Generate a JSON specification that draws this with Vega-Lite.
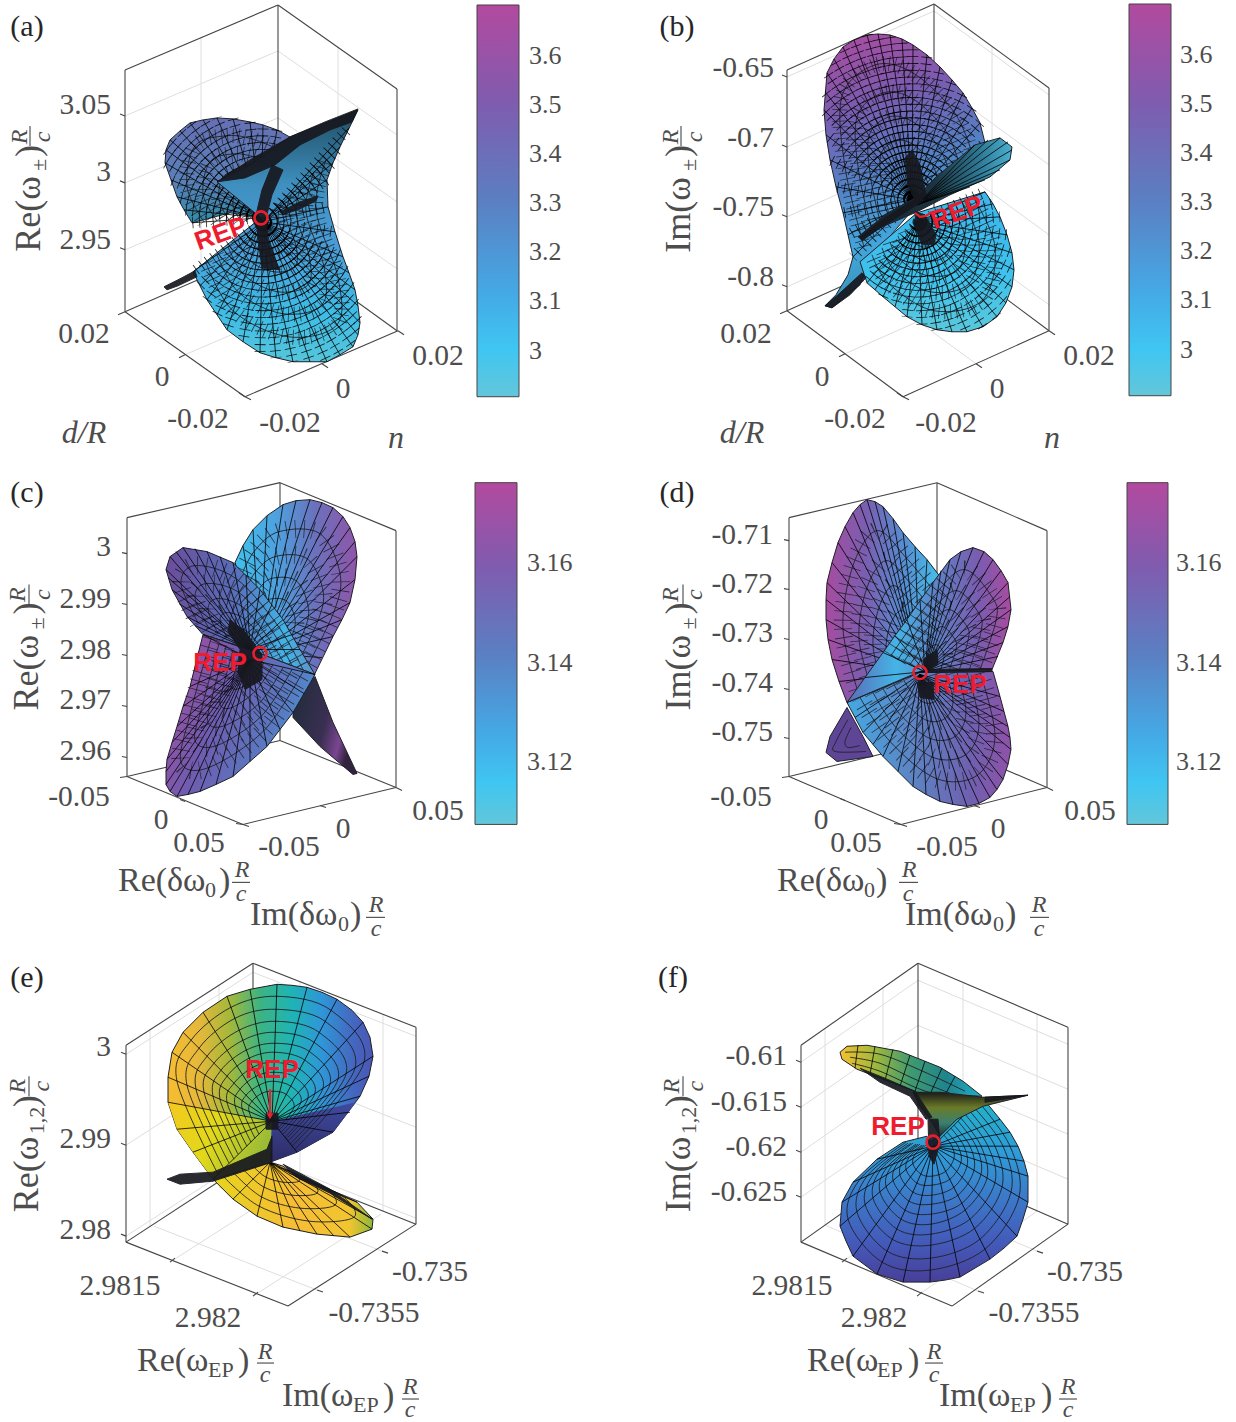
{"$schema":"https://vega.github.io/schema/vega-lite/v6.json","autosize":{"type":"fit","contains":"padding"},"width":1236,"height":1422,"padding":0,"background":"white","config":{"view":{"stroke":null},"text":{"font":"Liberation Serif"},"line":{"stroke":"#1f2128"},"style":{"ring":{"strokeWidth":0.9,"interpolate":"cardinal"},"spoke":{"stroke":"#1f2128","strokeWidth":0.8},"edge":{"strokeWidth":1,"interpolate":"linear-closed"},"rh":{"strokeWidth":15,"strokeDash":[0.8,5],"interpolate":"cardinal","opacity":0.85},"rh2":{"strokeWidth":18,"strokeDash":[0.8,8],"interpolate":"cardinal","opacity":0.85},"sh":{"stroke":"#1f2128","strokeWidth":11,"strokeDash":[0.8,6],"opacity":0.85}}},
"encoding":{"x":{"field":"x","type":"quantitative","scale":{"domain":[0,1236],"nice":false,"zero":false},"axis":null},"y":{"field":"y","type":"quantitative","scale":{"domain":[1422,0],"nice":false,"zero":false},"axis":null}},
"datasets":{
"grid":[{"x":125,"y":116,"x2":278,"y2":51},{"x":278,"y":51,"x2":397,"y2":135},{"x":125,"y":183,"x2":278,"y2":118},{"x":278,"y":118,"x2":397,"y2":202},{"x":125,"y":250,"x2":278,"y2":185},{"x":278,"y":185,"x2":397,"y2":269},{"x":201,"y":37,"x2":201,"y2":279},{"x":338,"y":47,"x2":338,"y2":288},{"x":185,"y":355,"x2":338,"y2":289},{"x":322,"y":364,"x2":201,"y2":280},
{"x":787,"y":77,"x2":934,"y2":11},{"x":934,"y":11,"x2":1049,"y2":95},{"x":787,"y":147,"x2":934,"y2":81},{"x":934,"y":81,"x2":1049,"y2":165},{"x":787,"y":217,"x2":934,"y2":151},{"x":934,"y":151,"x2":1049,"y2":235},{"x":787,"y":287,"x2":934,"y2":221},{"x":934,"y":221,"x2":1049,"y2":305},{"x":860,"y":37,"x2":860,"y2":279},{"x":992,"y":47,"x2":992,"y2":289},{"x":845,"y":354,"x2":992,"y2":289},{"x":976,"y":364,"x2":860,"y2":279},
{"x":126,"y":1055,"x2":253,"y2":973},{"x":253,"y":973,"x2":416,"y2":1037},{"x":126,"y":1146,"x2":253,"y2":1064},{"x":253,"y":1064,"x2":416,"y2":1128},{"x":126,"y":1237,"x2":253,"y2":1155},{"x":253,"y":1155,"x2":416,"y2":1219},{"x":150,"y":1031,"x2":150,"y2":1228},{"x":219,"y":986,"x2":219,"y2":1183},{"x":300,"y":982,"x2":300,"y2":1179},{"x":383,"y":1015,"x2":383,"y2":1212},{"x":170,"y":1263,"x2":298,"y2":1181},{"x":253,"y":1297,"x2":381,"y2":1215},{"x":317,"y":1291,"x2":154,"y2":1227},{"x":382,"y":1252,"x2":219,"y2":1188},
{"x":801,"y":1063,"x2":918,"y2":981},{"x":918,"y":981,"x2":1068,"y2":1045},{"x":801,"y":1108,"x2":918,"y2":1026},{"x":918,"y":1026,"x2":1068,"y2":1090},{"x":801,"y":1153,"x2":918,"y2":1071},{"x":918,"y":1071,"x2":1068,"y2":1135},{"x":801,"y":1198,"x2":918,"y2":1116},{"x":918,"y":1116,"x2":1068,"y2":1180},{"x":825,"y":1029,"x2":825,"y2":1226},{"x":883,"y":989,"x2":883,"y2":1186},{"x":963,"y":983,"x2":963,"y2":1180},{"x":1037,"y":1015,"x2":1037,"y2":1212},{"x":842,"y":1263,"x2":963,"y2":1180},{"x":917,"y":1297,"x2":1037,"y2":1212},{"x":978,"y":1292,"x2":825,"y2":1226},{"x":1037,"y":1252,"x2":883,"y2":1186}],
"box":[{"x":125,"y":70,"x2":278,"y2":5},{"x":278,"y":5,"x2":397,"y2":89},{"x":125,"y":70,"x2":125,"y2":312},{"x":397,"y":89,"x2":397,"y2":331},{"x":125,"y":312,"x2":245,"y2":397},{"x":245,"y":397,"x2":398,"y2":331},{"x":125,"y":312,"x2":278,"y2":245},{"x":278,"y":245,"x2":397,"y2":331},{"x":278,"y":5,"x2":278,"y2":245},
{"x":125,"y":116,"x2":120,"y2":114},{"x":125,"y":183,"x2":120,"y2":181},{"x":125,"y":250,"x2":120,"y2":248},{"x":125,"y":312,"x2":118,"y2":315},{"x":185,"y":355,"x2":179,"y2":358},{"x":245,"y":397,"x2":239,"y2":393},{"x":245,"y":397,"x2":251,"y2":400},{"x":322,"y":364,"x2":328,"y2":368},{"x":398,"y":331,"x2":404,"y2":335},
{"x":787,"y":70,"x2":934,"y2":4},{"x":934,"y":4,"x2":1049,"y2":88},{"x":787,"y":70,"x2":787,"y2":311},{"x":1049,"y":88,"x2":1049,"y2":331},{"x":787,"y":311,"x2":903,"y2":397},{"x":903,"y":397,"x2":1049,"y2":331},{"x":787,"y":311,"x2":934,"y2":245},{"x":934,"y":245,"x2":1049,"y2":331},{"x":934,"y":4,"x2":934,"y2":245},
{"x":787,"y":77,"x2":782,"y2":75},{"x":787,"y":147,"x2":782,"y2":145},{"x":787,"y":217,"x2":782,"y2":215},{"x":787,"y":287,"x2":782,"y2":285},{"x":787,"y":311,"x2":780,"y2":314},{"x":845,"y":354,"x2":839,"y2":357},{"x":903,"y":397,"x2":897,"y2":393},{"x":903,"y":397,"x2":909,"y2":400},{"x":976,"y":364,"x2":982,"y2":368},{"x":1049,"y":331,"x2":1055,"y2":335},
{"x":127,"y":518,"x2":280,"y2":483},{"x":280,"y":483,"x2":396,"y2":531},{"x":127,"y":518,"x2":127,"y2":777},{"x":396,"y":531,"x2":396,"y2":788},{"x":127,"y":777,"x2":243,"y2":825},{"x":243,"y":825,"x2":396,"y2":788},{"x":127,"y":777,"x2":280,"y2":741},{"x":280,"y":741,"x2":396,"y2":788},{"x":280,"y":483,"x2":280,"y2":741},
{"x":127,"y":554,"x2":122,"y2":553},{"x":127,"y":605,"x2":122,"y2":604},{"x":127,"y":656,"x2":122,"y2":655},{"x":127,"y":707,"x2":122,"y2":706},{"x":127,"y":758,"x2":122,"y2":757},{"x":127,"y":777,"x2":120,"y2":778},{"x":180,"y":800,"x2":185,"y2":802},{"x":243,"y":825,"x2":236,"y2":824},{"x":243,"y":825,"x2":249,"y2":827},{"x":320,"y":806,"x2":326,"y2":808},{"x":396,"y":788,"x2":402,"y2":791},
{"x":789,"y":518,"x2":937,"y2":483},{"x":937,"y":483,"x2":1047,"y2":531},{"x":789,"y":518,"x2":789,"y2":777},{"x":1047,"y":531,"x2":1047,"y2":788},{"x":789,"y":777,"x2":901,"y2":825},{"x":901,"y":825,"x2":1047,"y2":788},{"x":789,"y":777,"x2":937,"y2":741},{"x":937,"y":741,"x2":1047,"y2":788},{"x":937,"y":483,"x2":937,"y2":741},
{"x":789,"y":541,"x2":784,"y2":540},{"x":789,"y":590,"x2":784,"y2":589},{"x":789,"y":640,"x2":784,"y2":639},{"x":789,"y":690,"x2":784,"y2":689},{"x":789,"y":739,"x2":784,"y2":738},{"x":789,"y":777,"x2":782,"y2":778},{"x":845,"y":801,"x2":840,"y2":799},{"x":901,"y":825,"x2":894,"y2":824},{"x":901,"y":825,"x2":907,"y2":827},{"x":974,"y":806,"x2":980,"y2":808},{"x":1047,"y":788,"x2":1053,"y2":791},
{"x":126,"y":1046,"x2":253,"y2":964},{"x":253,"y":964,"x2":416,"y2":1028},{"x":126,"y":1046,"x2":126,"y2":1243},{"x":416,"y":1028,"x2":416,"y2":1225},{"x":126,"y":1243,"x2":288,"y2":1307},{"x":288,"y":1307,"x2":416,"y2":1225},{"x":126,"y":1243,"x2":253,"y2":1160},{"x":253,"y":1160,"x2":416,"y2":1225},{"x":253,"y":964,"x2":253,"y2":1160},
{"x":126,"y":1055,"x2":121,"y2":1053},{"x":126,"y":1146,"x2":121,"y2":1144},{"x":126,"y":1237,"x2":121,"y2":1235},{"x":170,"y":1263,"x2":175,"y2":1259},{"x":253,"y":1297,"x2":258,"y2":1293},{"x":317,"y":1291,"x2":323,"y2":1293},{"x":382,"y":1252,"x2":388,"y2":1254},
{"x":801,"y":1046,"x2":918,"y2":964},{"x":918,"y":964,"x2":1068,"y2":1028},{"x":801,"y":1046,"x2":801,"y2":1243},{"x":1068,"y":1028,"x2":1068,"y2":1225},{"x":801,"y":1243,"x2":952,"y2":1307},{"x":952,"y":1307,"x2":1068,"y2":1225},{"x":801,"y":1243,"x2":918,"y2":1160},{"x":918,"y":1160,"x2":1068,"y2":1225},{"x":918,"y":964,"x2":918,"y2":1160},
{"x":801,"y":1063,"x2":796,"y2":1061},{"x":801,"y":1108,"x2":796,"y2":1106},{"x":801,"y":1153,"x2":796,"y2":1151},{"x":801,"y":1198,"x2":796,"y2":1196},{"x":842,"y":1263,"x2":847,"y2":1259},{"x":917,"y":1297,"x2":922,"y2":1293},{"x":978,"y":1292,"x2":984,"y2":1294},{"x":1037,"y":1252,"x2":1043,"y2":1254},
{"x":514,"y":56,"x2":518,"y2":56},{"x":514,"y":105,"x2":518,"y2":105},{"x":514,"y":154,"x2":518,"y2":154},{"x":514,"y":203,"x2":518,"y2":203},{"x":514,"y":252,"x2":518,"y2":252},{"x":514,"y":301,"x2":518,"y2":301},{"x":514,"y":351,"x2":518,"y2":351},{"x":1165,"y":55,"x2":1170,"y2":55},{"x":1165,"y":104,"x2":1170,"y2":104},{"x":1165,"y":153,"x2":1170,"y2":153},{"x":1165,"y":202,"x2":1170,"y2":202},{"x":1165,"y":251,"x2":1170,"y2":251},{"x":1165,"y":300,"x2":1170,"y2":300},{"x":1165,"y":350,"x2":1170,"y2":350},{"x":512,"y":563,"x2":517,"y2":563},{"x":512,"y":663,"x2":517,"y2":663},{"x":512,"y":763,"x2":517,"y2":763},{"x":1163,"y":563,"x2":1168,"y2":563},{"x":1163,"y":663,"x2":1168,"y2":663},{"x":1163,"y":763,"x2":1168,"y2":763},
{"x":30,"y":126,"x2":30,"y2":146},{"x":681,"y":126,"x2":681,"y2":146},{"x":29,"y":585,"x2":29,"y2":605},{"x":683,"y":585,"x2":683,"y2":605},{"x":29,"y":1077,"x2":29,"y2":1097},{"x":683,"y":1077,"x2":683,"y2":1097},{"x":232,"y":883,"x2":250,"y2":883},{"x":366,"y":918,"x2":385,"y2":918},{"x":899,"y":883,"x2":918,"y2":883},{"x":1030,"y":918,"x2":1049,"y2":918},{"x":257,"y":1364,"x2":274,"y2":1364},{"x":402,"y":1400,"x2":419,"y2":1400},{"x":925,"y":1364,"x2":943,"y2":1364},{"x":1059,"y":1400,"x2":1077,"y2":1400}],
"cb1":[{"x":477,"x2":519,"y":5,"y2":397}],"cb2":[{"x":1129,"x2":1171,"y":4,"y2":396}],"cb3":[{"x":475,"x2":517,"y":483,"y2":825}],"cb4":[{"x":1127,"x2":1168,"y":483,"y2":825}],
"a1":[{"x":192,"y":223},{"x":184,"y":210},{"x":177,"y":197},{"x":171,"y":180},{"x":165,"y":163},{"x":166,"y":150},{"x":170,"y":140},{"x":180,"y":131},{"x":190,"y":123},{"x":203,"y":120},{"x":217,"y":118},{"x":233,"y":119},{"x":250,"y":122},{"x":263,"y":125},{"x":277,"y":130},{"x":295,"y":140},{"x":265,"y":218},{"x":230,"y":213}],
"a1r":[{"g":1,"x":204,"y":222},{"g":1,"x":187,"y":187},{"g":1,"x":195,"y":146},{"g":1,"x":225,"y":136},{"g":1,"x":252,"y":139},{"g":1,"x":289,"y":154},{"g":2,"x":217,"y":221},{"g":2,"x":203,"y":194},{"g":2,"x":210,"y":162},{"g":2,"x":233,"y":154},{"g":2,"x":254,"y":157},{"g":2,"x":283,"y":168},{"g":3,"x":229,"y":220},{"g":3,"x":219,"y":200},{"g":3,"x":223,"y":177},{"g":3,"x":240,"y":171},{"g":3,"x":256,"y":173},{"g":3,"x":277,"y":181},{"g":4,"x":240,"y":220},{"g":4,"x":233,"y":206},{"g":4,"x":236,"y":191},{"g":4,"x":247,"y":187},{"g":4,"x":258,"y":188},{"g":4,"x":272,"y":194},{"g":5,"x":249,"y":219},{"g":5,"x":246,"y":212},{"g":5,"x":247,"y":203},{"g":5,"x":254,"y":201},{"g":5,"x":259,"y":202},{"g":5,"x":267,"y":205}],
"a1s":[{"x":261,"y":218,"x2":192,"y2":223},{"x":261,"y":218,"x2":184,"y2":210},{"x":261,"y":218,"x2":177,"y2":197},{"x":261,"y":218,"x2":171,"y2":180},{"x":261,"y":218,"x2":165,"y2":163},{"x":261,"y":218,"x2":166,"y2":150},{"x":261,"y":218,"x2":170,"y2":140},{"x":261,"y":218,"x2":180,"y2":131},{"x":261,"y":218,"x2":190,"y2":123},{"x":261,"y":218,"x2":203,"y2":120},{"x":261,"y":218,"x2":217,"y2":118},{"x":261,"y":218,"x2":233,"y2":119},{"x":261,"y":218,"x2":250,"y2":122},{"x":261,"y":218,"x2":263,"y2":125},{"x":261,"y":218,"x2":277,"y2":130}],
"a2":[{"x":261,"y":218},{"x":193,"y":272},{"x":200,"y":286},{"x":207,"y":300},{"x":217,"y":315},{"x":227,"y":330},{"x":243,"y":342},{"x":260,"y":353},{"x":276,"y":358},{"x":293,"y":362},{"x":310,"y":362},{"x":327,"y":362},{"x":340,"y":355},{"x":353,"y":347},{"x":358,"y":335},{"x":360,"y":323},{"x":358,"y":306},{"x":355,"y":290},{"x":349,"y":273},{"x":343,"y":257},{"x":335,"y":232},{"x":328,"y":207},{"x":327,"y":180},{"x":333,"y":163},{"x":340,"y":147},{"x":358,"y":110},{"x":290,"y":137},{"x":250,"y":165},{"x":217,"y":182}],
"a2r":[{"g":1,"x":206,"y":263},{"g":1,"x":233,"y":311},{"g":1,"x":288,"y":337},{"g":1,"x":337,"y":325},{"g":1,"x":338,"y":278},{"g":1,"x":316,"y":210},{"g":1,"x":326,"y":160},{"g":2,"x":217,"y":255},{"g":2,"x":239,"y":293},{"g":2,"x":283,"y":314},{"g":2,"x":322,"y":305},{"g":2,"x":324,"y":267},{"g":2,"x":306,"y":212},{"g":2,"x":314,"y":172},{"g":3,"x":228,"y":247},{"g":3,"x":245,"y":276},{"g":3,"x":278,"y":292},{"g":3,"x":308,"y":285},{"g":3,"x":309,"y":256},{"g":3,"x":296,"y":214},{"g":3,"x":302,"y":184},{"g":4,"x":238,"y":240},{"g":4,"x":250,"y":261},{"g":4,"x":274,"y":272},{"g":4,"x":295,"y":267},{"g":4,"x":296,"y":246},{"g":4,"x":286,"y":217},{"g":4,"x":291,"y":195},{"g":5,"x":247,"y":234},{"g":5,"x":255,"y":247},{"g":5,"x":270,"y":254},{"g":5,"x":284,"y":251},{"g":5,"x":284,"y":238},{"g":5,"x":278,"y":219},{"g":5,"x":281,"y":205}],
"a2s":[{"x":263,"y":222,"x2":193,"y2":272},{"x":263,"y":222,"x2":200,"y2":286},{"x":263,"y":222,"x2":207,"y2":300},{"x":263,"y":222,"x2":217,"y2":315},{"x":263,"y":222,"x2":227,"y2":330},{"x":263,"y":222,"x2":243,"y2":342},{"x":263,"y":222,"x2":260,"y2":353},{"x":263,"y":222,"x2":276,"y2":358},{"x":263,"y":222,"x2":293,"y2":362},{"x":263,"y":222,"x2":310,"y2":362},{"x":263,"y":222,"x2":327,"y2":362},{"x":263,"y":222,"x2":340,"y2":355},{"x":263,"y":222,"x2":353,"y2":347},{"x":263,"y":222,"x2":358,"y2":335},{"x":263,"y":222,"x2":360,"y2":323},{"x":263,"y":222,"x2":358,"y2":306},{"x":263,"y":222,"x2":355,"y2":290},{"x":263,"y":222,"x2":349,"y2":273},{"x":263,"y":222,"x2":343,"y2":257},{"x":263,"y":222,"x2":335,"y2":232},{"x":263,"y":222,"x2":328,"y2":207},{"x":263,"y":222,"x2":327,"y2":180},{"x":263,"y":222,"x2":333,"y2":163},{"x":263,"y":222,"x2":340,"y2":147},{"x":263,"y":222,"x2":349,"y2":128}],
"b1":[{"x":917,"y":205},{"x":985,"y":143},{"x":980,"y":123},{"x":972,"y":108},{"x":963,"y":93},{"x":952,"y":80},{"x":940,"y":67},{"x":927,"y":55},{"x":913,"y":45},{"x":902,"y":39},{"x":890,"y":35},{"x":878,"y":34},{"x":867,"y":35},{"x":854,"y":40},{"x":843,"y":47},{"x":834,"y":59},{"x":827,"y":73},{"x":824,"y":110},{"x":826,"y":135},{"x":830,"y":160},{"x":836,"y":187},{"x":843,"y":213},{"x":853,"y":257},{"x":848,"y":275},{"x":836,"y":295},{"x":825,"y":306},{"x":832,"y":308},{"x":860,"y":285},{"x":868,"y":262}],
"b1r":[{"g":1,"x":864,"y":247},{"g":1,"x":845,"y":167},{"g":1,"x":842,"y":96},{"g":1,"x":875,"y":65},{"g":1,"x":913,"y":73},{"g":1,"x":954,"y":112},{"g":1,"x":972,"y":153},{"g":2,"x":874,"y":237},{"g":2,"x":859,"y":174},{"g":2,"x":857,"y":117},{"g":2,"x":883,"y":93},{"g":2,"x":913,"y":99},{"g":2,"x":945,"y":130},{"g":2,"x":959,"y":163},{"g":3,"x":882,"y":229},{"g":3,"x":871,"y":180},{"g":3,"x":869,"y":136},{"g":3,"x":889,"y":117},{"g":3,"x":913,"y":122},{"g":3,"x":938,"y":146},{"g":3,"x":949,"y":171},{"g":4,"x":891,"y":221},{"g":4,"x":882,"y":186},{"g":4,"x":881,"y":154},{"g":4,"x":896,"y":141},{"g":4,"x":912,"y":144},{"g":4,"x":930,"y":161},{"g":4,"x":938,"y":179},{"g":5,"x":898,"y":213},{"g":5,"x":893,"y":191},{"g":5,"x":892,"y":171},{"g":5,"x":902,"y":162},{"g":5,"x":912,"y":164},{"g":5,"x":924,"y":175},{"g":5,"x":929,"y":187}],
"b1s":[{"x":912,"y":200,"x2":985,"y2":143},{"x":912,"y":200,"x2":980,"y2":123},{"x":912,"y":200,"x2":972,"y2":108},{"x":912,"y":200,"x2":963,"y2":93},{"x":912,"y":200,"x2":952,"y2":80},{"x":912,"y":200,"x2":940,"y2":67},{"x":912,"y":200,"x2":927,"y2":55},{"x":912,"y":200,"x2":913,"y2":45},{"x":912,"y":200,"x2":902,"y2":39},{"x":912,"y":200,"x2":890,"y2":35},{"x":912,"y":200,"x2":878,"y2":34},{"x":912,"y":200,"x2":867,"y2":35},{"x":912,"y":200,"x2":854,"y2":40},{"x":912,"y":200,"x2":843,"y2":47},{"x":912,"y":200,"x2":834,"y2":59},{"x":912,"y":200,"x2":827,"y2":73},{"x":912,"y":200,"x2":825,"y2":92},{"x":912,"y":200,"x2":824,"y2":110},{"x":912,"y":200,"x2":826,"y2":135},{"x":912,"y":200,"x2":830,"y2":160},{"x":912,"y":200,"x2":836,"y2":187},{"x":912,"y":200,"x2":843,"y2":213},{"x":912,"y":200,"x2":848,"y2":235},{"x":912,"y":200,"x2":853,"y2":257}],
"b3":[{"x":917,"y":213},{"x":985,"y":192},{"x":993,"y":204},{"x":1000,"y":217},{"x":1007,"y":235},{"x":1012,"y":253},{"x":1014,"y":270},{"x":1012,"y":287},{"x":1006,"y":303},{"x":997,"y":317},{"x":983,"y":327},{"x":967,"y":332},{"x":952,"y":332},{"x":937,"y":330},{"x":922,"y":325},{"x":907,"y":317},{"x":883,"y":297},{"x":867,"y":283},{"x":860,"y":262}],
"b3r":[{"g":1,"x":973,"y":197},{"g":1,"x":995,"y":247},{"g":1,"x":983,"y":300},{"g":1,"x":934,"y":311},{"g":1,"x":889,"y":284},{"g":1,"x":872,"y":255},{"g":2,"x":962,"y":202},{"g":2,"x":979,"y":242},{"g":2,"x":969,"y":284},{"g":2,"x":930,"y":292},{"g":2,"x":895,"y":271},{"g":2,"x":882,"y":248},{"g":3,"x":952,"y":207},{"g":3,"x":965,"y":238},{"g":3,"x":958,"y":270},{"g":3,"x":928,"y":276},{"g":3,"x":900,"y":260},{"g":3,"x":890,"y":242},{"g":4,"x":942,"y":211},{"g":4,"x":952,"y":233},{"g":4,"x":946,"y":256},{"g":4,"x":925,"y":261},{"g":4,"x":905,"y":249},{"g":4,"x":898,"y":236},{"g":5,"x":933,"y":215},{"g":5,"x":940,"y":229},{"g":5,"x":936,"y":244},{"g":5,"x":922,"y":247},{"g":5,"x":910,"y":239},{"g":5,"x":905,"y":231}],
"b3s":[{"x":918,"y":222,"x2":985,"y2":192},{"x":918,"y":222,"x2":993,"y2":204},{"x":918,"y":222,"x2":1000,"y2":217},{"x":918,"y":222,"x2":1007,"y2":235},{"x":918,"y":222,"x2":1012,"y2":253},{"x":918,"y":222,"x2":1014,"y2":270},{"x":918,"y":222,"x2":1012,"y2":287},{"x":918,"y":222,"x2":1006,"y2":303},{"x":918,"y":222,"x2":997,"y2":317},{"x":918,"y":222,"x2":983,"y2":327},{"x":918,"y":222,"x2":967,"y2":332},{"x":918,"y":222,"x2":952,"y2":332},{"x":918,"y":222,"x2":937,"y2":330},{"x":918,"y":222,"x2":922,"y2":325},{"x":918,"y":222,"x2":907,"y2":317},{"x":918,"y":222,"x2":895,"y2":307},{"x":918,"y":222,"x2":883,"y2":297},{"x":918,"y":222,"x2":875,"y2":290},{"x":918,"y":222,"x2":867,"y2":283}],
"b2":[{"x":917,"y":197},{"x":935,"y":178},{"x":975,"y":145},{"x":1000,"y":138},{"x":1012,"y":147},{"x":1010,"y":160},{"x":990,"y":177},{"x":950,"y":195},{"x":917,"y":212},{"x":880,"y":228},{"x":862,"y":240},{"x":858,"y":237},{"x":885,"y":215}],
"b2s":[{"x":917,"y":205,"x2":975,"y2":145},{"x":917,"y":205,"x2":988,"y2":140},{"x":917,"y":205,"x2":1000,"y2":138},{"x":917,"y":205,"x2":1008,"y2":142},{"x":917,"y":205,"x2":1012,"y2":150},{"x":917,"y":205,"x2":1010,"y2":160},{"x":917,"y":205,"x2":1000,"y2":170},{"x":917,"y":205,"x2":985,"y2":180},{"x":917,"y":205,"x2":970,"y2":187}],
"c2":[{"x":293,"y":700},{"x":315,"y":677},{"x":333,"y":723},{"x":357,"y":774},{"x":353,"y":775},{"x":320,"y":747},{"x":293,"y":718}],
"c1":[{"x":260,"y":654},{"x":235,"y":563},{"x":243,"y":546},{"x":253,"y":530},{"x":267,"y":516},{"x":283,"y":505},{"x":296,"y":501},{"x":310,"y":500},{"x":322,"y":503},{"x":333,"y":508},{"x":343,"y":517},{"x":350,"y":528},{"x":355,"y":542},{"x":357,"y":557},{"x":355,"y":580},{"x":350,"y":603},{"x":342,"y":620},{"x":333,"y":637},{"x":312,"y":680},{"x":295,"y":672}],
"c1r":[{"g":1,"x":240,"y":579},{"g":1,"x":254,"y":552},{"g":1,"x":279,"y":532},{"g":1,"x":320,"y":534},{"g":1,"x":340,"y":574},{"g":1,"x":334,"y":612},{"g":1,"x":303,"y":675},{"g":2,"x":244,"y":595},{"g":2,"x":255,"y":573},{"g":2,"x":275,"y":557},{"g":2,"x":307,"y":559},{"g":2,"x":323,"y":591},{"g":2,"x":318,"y":621},{"g":2,"x":294,"y":671},{"g":3,"x":248,"y":609},{"g":3,"x":257,"y":592},{"g":3,"x":271,"y":579},{"g":3,"x":296,"y":581},{"g":3,"x":308,"y":606},{"g":3,"x":305,"y":629},{"g":3,"x":286,"y":667},{"g":4,"x":251,"y":621},{"g":4,"x":258,"y":609},{"g":4,"x":268,"y":600},{"g":4,"x":286,"y":601},{"g":4,"x":295,"y":619},{"g":4,"x":292,"y":636},{"g":4,"x":279,"y":663},{"g":5,"x":255,"y":634},{"g":5,"x":259,"y":627},{"g":5,"x":265,"y":621},{"g":5,"x":276,"y":622},{"g":5,"x":281,"y":633},{"g":5,"x":280,"y":643},{"g":5,"x":271,"y":660}],
"c1s":[{"x":260,"y":654,"x2":235,"y2":563},{"x":260,"y":654,"x2":243,"y2":546},{"x":260,"y":654,"x2":253,"y2":530},{"x":260,"y":654,"x2":267,"y2":516},{"x":260,"y":654,"x2":283,"y2":505},{"x":260,"y":654,"x2":296,"y2":501},{"x":260,"y":654,"x2":310,"y2":500},{"x":260,"y":654,"x2":322,"y2":503},{"x":260,"y":654,"x2":333,"y2":508},{"x":260,"y":654,"x2":343,"y2":517},{"x":260,"y":654,"x2":350,"y2":528},{"x":260,"y":654,"x2":355,"y2":542},{"x":260,"y":654,"x2":357,"y2":557},{"x":260,"y":654,"x2":355,"y2":580},{"x":260,"y":654,"x2":350,"y2":603},{"x":260,"y":654,"x2":342,"y2":620},{"x":260,"y":654,"x2":333,"y2":637},{"x":260,"y":654,"x2":322,"y2":658}],
"c3":[{"x":203,"y":635},{"x":187,"y":617},{"x":172,"y":590},{"x":166,"y":570},{"x":170,"y":557},{"x":183,"y":548},{"x":207,"y":552},{"x":233,"y":563},{"x":260,"y":590},{"x":283,"y":620},{"x":300,"y":650},{"x":315,"y":675},{"x":260,"y":654}],
"c3r":[{"g":1,"x":198,"y":623},{"g":1,"x":181,"y":584},{"g":1,"x":195,"y":566},{"g":1,"x":236,"y":579},{"g":1,"x":277,"y":625},{"g":1,"x":303,"y":670},{"g":2,"x":209,"y":629},{"g":2,"x":195,"y":598},{"g":2,"x":206,"y":584},{"g":2,"x":239,"y":593},{"g":2,"x":271,"y":630},{"g":2,"x":292,"y":666},{"g":3,"x":218,"y":634},{"g":3,"x":208,"y":610},{"g":3,"x":217,"y":599},{"g":3,"x":242,"y":607},{"g":3,"x":266,"y":635},{"g":3,"x":283,"y":662},{"g":4,"x":227,"y":638},{"g":4,"x":220,"y":621},{"g":4,"x":226,"y":613},{"g":4,"x":244,"y":619},{"g":4,"x":262,"y":639},{"g":4,"x":273,"y":659},{"g":5,"x":236,"y":643},{"g":5,"x":232,"y":632},{"g":5,"x":235,"y":628},{"g":5,"x":246,"y":631},{"g":5,"x":257,"y":643},{"g":5,"x":264,"y":655}],
"c3s":[{"x":250,"y":650,"x2":203,"y2":635},{"x":250,"y":650,"x2":195,"y2":626},{"x":250,"y":650,"x2":187,"y2":617},{"x":250,"y":650,"x2":179,"y2":604},{"x":250,"y":650,"x2":172,"y2":590},{"x":250,"y":650,"x2":168,"y2":578},{"x":250,"y":650,"x2":166,"y2":570},{"x":250,"y":650,"x2":170,"y2":557},{"x":250,"y":650,"x2":176,"y2":552},{"x":250,"y":650,"x2":183,"y2":548},{"x":250,"y":650,"x2":195,"y2":549},{"x":250,"y":650,"x2":207,"y2":552},{"x":250,"y":650,"x2":220,"y2":557},{"x":250,"y":650,"x2":233,"y2":563},{"x":250,"y":650,"x2":246,"y2":576},{"x":250,"y":650,"x2":260,"y2":590},{"x":250,"y":650,"x2":272,"y2":605},{"x":250,"y":650,"x2":283,"y2":620},{"x":250,"y":650,"x2":292,"y2":635},{"x":250,"y":650,"x2":300,"y2":650}],
"c4":[{"x":203,"y":635},{"x":260,"y":654},{"x":315,"y":675},{"x":304,"y":694},{"x":293,"y":713},{"x":280,"y":730},{"x":267,"y":747},{"x":250,"y":762},{"x":233,"y":777},{"x":216,"y":785},{"x":200,"y":792},{"x":188,"y":795},{"x":177,"y":797},{"x":170,"y":792},{"x":166,"y":785},{"x":166,"y":772},{"x":167,"y":760},{"x":172,"y":743},{"x":177,"y":727},{"x":183,"y":707},{"x":190,"y":687}],
"c4r":[{"g":1,"x":211,"y":639},{"g":1,"x":190,"y":715},{"g":1,"x":181,"y":763},{"g":1,"x":209,"y":768},{"g":1,"x":264,"y":731},{"g":1,"x":303,"y":672},{"g":2,"x":219,"y":644},{"g":2,"x":203,"y":704},{"g":2,"x":195,"y":741},{"g":2,"x":217,"y":746},{"g":2,"x":261,"y":717},{"g":2,"x":292,"y":670},{"g":3,"x":226,"y":647},{"g":3,"x":213,"y":694},{"g":3,"x":208,"y":723},{"g":3,"x":225,"y":726},{"g":3,"x":259,"y":704},{"g":3,"x":283,"y":668},{"g":4,"x":233,"y":651},{"g":4,"x":224,"y":684},{"g":4,"x":220,"y":705},{"g":4,"x":232,"y":708},{"g":4,"x":256,"y":691},{"g":4,"x":273,"y":665},{"g":5,"x":240,"y":654},{"g":5,"x":234,"y":675},{"g":5,"x":232,"y":688},{"g":5,"x":239,"y":689},{"g":5,"x":254,"y":679},{"g":5,"x":264,"y":663}],
"c4s":[{"x":250,"y":660,"x2":203,"y2":635},{"x":250,"y":660,"x2":190,"y2":687},{"x":250,"y":660,"x2":183,"y2":707},{"x":250,"y":660,"x2":177,"y2":727},{"x":250,"y":660,"x2":172,"y2":743},{"x":250,"y":660,"x2":167,"y2":760},{"x":250,"y":660,"x2":166,"y2":772},{"x":250,"y":660,"x2":166,"y2":785},{"x":250,"y":660,"x2":170,"y2":792},{"x":250,"y":660,"x2":177,"y2":797},{"x":250,"y":660,"x2":188,"y2":795},{"x":250,"y":660,"x2":200,"y2":792},{"x":250,"y":660,"x2":216,"y2":785},{"x":250,"y":660,"x2":233,"y2":777},{"x":250,"y":660,"x2":250,"y2":762},{"x":250,"y":660,"x2":267,"y2":747},{"x":250,"y":660,"x2":280,"y2":730},{"x":250,"y":660,"x2":293,"y2":713},{"x":250,"y":660,"x2":304,"y2":694},{"x":250,"y":660,"x2":315,"y2":675}],
"d3":[{"x":847,"y":708},{"x":830,"y":737},{"x":826,"y":753},{"x":837,"y":762},{"x":873,"y":757},{"x":863,"y":737}],
"d3r":[{"g":1,"x":848,"y":720},{"g":1,"x":836,"y":742},{"g":1,"x":835,"y":752},{"g":1,"x":866,"y":752},{"g":2,"x":851,"y":728},{"g":2,"x":845,"y":742},{"g":2,"x":848,"y":748},{"g":2,"x":860,"y":746}],
"d1":[{"x":920,"y":673},{"x":847,"y":703},{"x":839,"y":682},{"x":832,"y":660},{"x":828,"y":640},{"x":826,"y":620},{"x":826,"y":600},{"x":827,"y":583},{"x":832,"y":563},{"x":838,"y":543},{"x":845,"y":527},{"x":853,"y":513},{"x":860,"y":505},{"x":867,"y":500},{"x":875,"y":502},{"x":883,"y":507},{"x":893,"y":519},{"x":903,"y":533},{"x":915,"y":547},{"x":927,"y":560},{"x":940,"y":577}],
"d1r":[{"g":1,"x":860,"y":698},{"g":1,"x":843,"y":630},{"g":1,"x":853,"y":566},{"g":1,"x":877,"y":531},{"g":1,"x":906,"y":558},{"g":1,"x":936,"y":594},{"g":2,"x":873,"y":693},{"g":2,"x":859,"y":639},{"g":2,"x":867,"y":588},{"g":2,"x":886,"y":561},{"g":2,"x":909,"y":582},{"g":2,"x":933,"y":611},{"g":3,"x":883,"y":688},{"g":3,"x":873,"y":646},{"g":3,"x":879,"y":608},{"g":3,"x":893,"y":586},{"g":3,"x":911,"y":603},{"g":3,"x":930,"y":625},{"g":4,"x":894,"y":684},{"g":4,"x":886,"y":654},{"g":4,"x":890,"y":626},{"g":4,"x":901,"y":611},{"g":4,"x":914,"y":623},{"g":4,"x":927,"y":638},{"g":5,"x":904,"y":680},{"g":5,"x":899,"y":661},{"g":5,"x":902,"y":644},{"g":5,"x":908,"y":635},{"g":5,"x":916,"y":642},{"g":5,"x":924,"y":652}],
"d1s":[{"x":920,"y":673,"x2":839,"y2":682},{"x":920,"y":673,"x2":832,"y2":660},{"x":920,"y":673,"x2":828,"y2":640},{"x":920,"y":673,"x2":826,"y2":620},{"x":920,"y":673,"x2":826,"y2":600},{"x":920,"y":673,"x2":827,"y2":583},{"x":920,"y":673,"x2":832,"y2":563},{"x":920,"y":673,"x2":838,"y2":543},{"x":920,"y":673,"x2":845,"y2":527},{"x":920,"y":673,"x2":853,"y2":513},{"x":920,"y":673,"x2":860,"y2":505},{"x":920,"y":673,"x2":867,"y2":500},{"x":920,"y":673,"x2":875,"y2":502},{"x":920,"y":673,"x2":883,"y2":507},{"x":920,"y":673,"x2":893,"y2":519},{"x":920,"y":673,"x2":903,"y2":533},{"x":920,"y":673,"x2":915,"y2":547},{"x":920,"y":673,"x2":927,"y2":560}],
"d4":[{"x":920,"y":673},{"x":847,"y":703},{"x":855,"y":718},{"x":863,"y":733},{"x":873,"y":745},{"x":883,"y":757},{"x":898,"y":772},{"x":913,"y":787},{"x":926,"y":795},{"x":940,"y":802},{"x":953,"y":805},{"x":967,"y":807},{"x":979,"y":804},{"x":990,"y":798},{"x":997,"y":790},{"x":1003,"y":780},{"x":1008,"y":765},{"x":1011,"y":750},{"x":1010,"y":738},{"x":1008,"y":727},{"x":1004,"y":712},{"x":1000,"y":697},{"x":993,"y":672}],
"d4r":[{"g":1,"x":860,"y":698},{"g":1,"x":890,"y":742},{"g":1,"x":936,"y":779},{"g":1,"x":977,"y":776},{"g":1,"x":995,"y":737},{"g":1,"x":980,"y":673},{"g":2,"x":873,"y":693},{"g":2,"x":896,"y":728},{"g":2,"x":933,"y":758},{"g":2,"x":966,"y":755},{"g":2,"x":979,"y":724},{"g":2,"x":967,"y":673},{"g":3,"x":883,"y":689},{"g":3,"x":901,"y":716},{"g":3,"x":930,"y":739},{"g":3,"x":955,"y":737},{"g":3,"x":966,"y":713},{"g":3,"x":957,"y":673},{"g":4,"x":894,"y":685},{"g":4,"x":907,"y":705},{"g":4,"x":927,"y":721},{"g":4,"x":945,"y":719},{"g":4,"x":953,"y":702},{"g":4,"x":946,"y":674},{"g":5,"x":904,"y":681},{"g":5,"x":912,"y":693},{"g":5,"x":924,"y":703},{"g":5,"x":935,"y":702},{"g":5,"x":940,"y":692},{"g":5,"x":936,"y":674}],
"d4s":[{"x":920,"y":675,"x2":855,"y2":718},{"x":920,"y":675,"x2":863,"y2":733},{"x":920,"y":675,"x2":873,"y2":745},{"x":920,"y":675,"x2":883,"y2":757},{"x":920,"y":675,"x2":898,"y2":772},{"x":920,"y":675,"x2":913,"y2":787},{"x":920,"y":675,"x2":926,"y2":795},{"x":920,"y":675,"x2":940,"y2":802},{"x":920,"y":675,"x2":953,"y2":805},{"x":920,"y":675,"x2":967,"y2":807},{"x":920,"y":675,"x2":979,"y2":804},{"x":920,"y":675,"x2":990,"y2":798},{"x":920,"y":675,"x2":997,"y2":790},{"x":920,"y":675,"x2":1003,"y2":780},{"x":920,"y":675,"x2":1008,"y2":765},{"x":920,"y":675,"x2":1011,"y2":750},{"x":920,"y":675,"x2":1010,"y2":738},{"x":920,"y":675,"x2":1008,"y2":727},{"x":920,"y":675,"x2":1004,"y2":712},{"x":920,"y":675,"x2":1000,"y2":697}],
"d2":[{"x":920,"y":672},{"x":847,"y":703},{"x":865,"y":678},{"x":883,"y":653},{"x":895,"y":636},{"x":907,"y":620},{"x":920,"y":601},{"x":933,"y":583},{"x":950,"y":560},{"x":961,"y":552},{"x":973,"y":548},{"x":984,"y":552},{"x":993,"y":560},{"x":1001,"y":571},{"x":1008,"y":583},{"x":1011,"y":610},{"x":1008,"y":627},{"x":1003,"y":643},{"x":992,"y":670}],
"d2r":[{"g":1,"x":891,"y":656},{"g":1,"x":932,"y":599},{"g":1,"x":964,"y":570},{"g":1,"x":993,"y":599},{"g":1,"x":996,"y":621},{"g":1,"x":980,"y":670},{"g":2,"x":898,"y":660},{"g":2,"x":930,"y":614},{"g":2,"x":956,"y":591},{"g":2,"x":979,"y":614},{"g":2,"x":981,"y":632},{"g":2,"x":969,"y":671},{"g":3,"x":904,"y":662},{"g":3,"x":929,"y":627},{"g":3,"x":949,"y":610},{"g":3,"x":967,"y":627},{"g":3,"x":968,"y":641},{"g":3,"x":959,"y":671},{"g":4,"x":910,"y":665},{"g":4,"x":928,"y":640},{"g":4,"x":942,"y":627},{"g":4,"x":955,"y":640},{"g":4,"x":956,"y":650},{"g":4,"x":949,"y":671},{"g":5,"x":916,"y":668},{"g":5,"x":927,"y":652},{"g":5,"x":936,"y":645},{"g":5,"x":943,"y":652},{"g":5,"x":944,"y":658},{"g":5,"x":940,"y":672}],
"d2s":[{"x":925,"y":672,"x2":865,"y2":678},{"x":925,"y":672,"x2":883,"y2":653},{"x":925,"y":672,"x2":895,"y2":636},{"x":925,"y":672,"x2":907,"y2":620},{"x":925,"y":672,"x2":920,"y2":601},{"x":925,"y":672,"x2":933,"y2":583},{"x":925,"y":672,"x2":941,"y2":571},{"x":925,"y":672,"x2":950,"y2":560},{"x":925,"y":672,"x2":961,"y2":552},{"x":925,"y":672,"x2":973,"y2":548},{"x":925,"y":672,"x2":984,"y2":552},{"x":925,"y":672,"x2":993,"y2":560},{"x":925,"y":672,"x2":1001,"y2":571},{"x":925,"y":672,"x2":1008,"y2":583},{"x":925,"y":672,"x2":1010,"y2":597},{"x":925,"y":672,"x2":1011,"y2":610},{"x":925,"y":672,"x2":1008,"y2":627},{"x":925,"y":672,"x2":1003,"y2":643},{"x":925,"y":672,"x2":998,"y2":657}],
"e3":[{"x":213,"y":1180},{"x":233,"y":1200},{"x":257,"y":1217},{"x":283,"y":1228},{"x":317,"y":1235},{"x":350,"y":1238},{"x":372,"y":1230},{"x":373,"y":1220},{"x":357,"y":1203},{"x":330,"y":1192},{"x":300,"y":1180},{"x":283,"y":1167},{"x":270,"y":1163}],
"e3r":[{"g":1,"x":223,"y":1177},{"g":1,"x":259,"y":1207},{"g":1,"x":309,"y":1222},{"g":1,"x":354,"y":1218},{"g":1,"x":341,"y":1196},{"g":1,"x":295,"y":1177},{"g":2,"x":234,"y":1174},{"g":2,"x":262,"y":1198},{"g":2,"x":300,"y":1209},{"g":2,"x":335,"y":1206},{"g":2,"x":326,"y":1189},{"g":2,"x":289,"y":1174},{"g":3,"x":244,"y":1171},{"g":3,"x":264,"y":1188},{"g":3,"x":292,"y":1196},{"g":3,"x":317,"y":1194},{"g":3,"x":310,"y":1181},{"g":3,"x":284,"y":1171},{"g":4,"x":254,"y":1168},{"g":4,"x":266,"y":1178},{"g":4,"x":283,"y":1183},{"g":4,"x":299,"y":1182},{"g":4,"x":294,"y":1174},{"g":4,"x":278,"y":1168}],
"e3s":[{"x":270,"y":1163,"x2":233,"y2":1200},{"x":270,"y":1163,"x2":257,"y2":1217},{"x":270,"y":1163,"x2":283,"y2":1228},{"x":270,"y":1163,"x2":300,"y2":1232},{"x":270,"y":1163,"x2":317,"y2":1235},{"x":270,"y":1163,"x2":334,"y2":1237},{"x":270,"y":1163,"x2":350,"y2":1238},{"x":270,"y":1163,"x2":372,"y2":1230},{"x":270,"y":1163,"x2":373,"y2":1220},{"x":270,"y":1163,"x2":357,"y2":1203}],
"e1":[{"x":297,"y":1153},{"x":333,"y":1133},{"x":360,"y":1097},{"x":369,"y":1077},{"x":373,"y":1057},{"x":370,"y":1038},{"x":363,"y":1023},{"x":352,"y":1011},{"x":337,"y":1000},{"x":322,"y":993},{"x":307,"y":988},{"x":292,"y":986},{"x":277,"y":985},{"x":250,"y":990},{"x":227,"y":997},{"x":203,"y":1013},{"x":183,"y":1033},{"x":172,"y":1053},{"x":168,"y":1078},{"x":168,"y":1103},{"x":177,"y":1130},{"x":193,"y":1153},{"x":213,"y":1180},{"x":270,"y":1163}],
"e1y":[{"x":272,"y":1122},{"x":168,"y":1103},{"x":177,"y":1130},{"x":193,"y":1153},{"x":213,"y":1180},{"x":270,"y":1163}],
"e1d":[{"x":272,"y":1122},{"x":356,"y":1103},{"x":333,"y":1133},{"x":297,"y":1153},{"x":270,"y":1163}],
"e1r":[{"g":1,"x":224,"y":1170},{"g":1,"x":187,"y":1086},{"g":1,"x":199,"y":1049},{"g":1,"x":235,"y":1019},{"g":1,"x":276,"y":1010},{"g":1,"x":325,"y":1022},{"g":1,"x":355,"y":1069},{"g":1,"x":292,"y":1147},{"g":2,"x":234,"y":1160},{"g":2,"x":204,"y":1093},{"g":2,"x":214,"y":1064},{"g":2,"x":243,"y":1041},{"g":2,"x":275,"y":1033},{"g":2,"x":314,"y":1043},{"g":2,"x":338,"y":1080},{"g":2,"x":288,"y":1142},{"g":3,"x":242,"y":1151},{"g":3,"x":220,"y":1100},{"g":3,"x":227,"y":1077},{"g":3,"x":249,"y":1059},{"g":3,"x":275,"y":1053},{"g":3,"x":305,"y":1061},{"g":3,"x":323,"y":1089},{"g":3,"x":285,"y":1138},{"g":4,"x":251,"y":1143},{"g":4,"x":235,"y":1106},{"g":4,"x":240,"y":1090},{"g":4,"x":256,"y":1077},{"g":4,"x":274,"y":1073},{"g":4,"x":295,"y":1078},{"g":4,"x":308,"y":1099},{"g":4,"x":281,"y":1133},{"g":5,"x":259,"y":1135},{"g":5,"x":249,"y":1112},{"g":5,"x":252,"y":1102},{"g":5,"x":262,"y":1094},{"g":5,"x":273,"y":1092},{"g":5,"x":286,"y":1095},{"g":5,"x":294,"y":1108},{"g":5,"x":278,"y":1129},
{"g":6,"x":218,"y":1175},{"g":6,"x":177,"y":1082},{"g":6,"x":191,"y":1041},{"g":6,"x":231,"y":1008},{"g":6,"x":277,"y":997},{"g":6,"x":331,"y":1011},{"g":6,"x":364,"y":1063},{"g":6,"x":295,"y":1150},{"g":7,"x":229,"y":1164},{"g":7,"x":196,"y":1090},{"g":7,"x":207,"y":1057},{"g":7,"x":239,"y":1031},{"g":7,"x":276,"y":1022},{"g":7,"x":319,"y":1033},{"g":7,"x":346,"y":1075},{"g":7,"x":290,"y":1145},{"g":8,"x":238,"y":1155},{"g":8,"x":213,"y":1097},{"g":8,"x":221,"y":1071},{"g":8,"x":246,"y":1051},{"g":8,"x":275,"y":1044},{"g":8,"x":309,"y":1052},{"g":8,"x":330,"y":1085},{"g":8,"x":286,"y":1140},{"g":9,"x":247,"y":1147},{"g":9,"x":227,"y":1103},{"g":9,"x":234,"y":1084},{"g":9,"x":253,"y":1068},{"g":9,"x":274,"y":1063},{"g":9,"x":300,"y":1070},{"g":9,"x":315,"y":1094},{"g":9,"x":283,"y":1135},{"g":10,"x":255,"y":1139},{"g":10,"x":242,"y":1109},{"g":10,"x":246,"y":1096},{"g":10,"x":259,"y":1086},{"g":10,"x":273,"y":1082},{"g":10,"x":291,"y":1087},{"g":10,"x":301,"y":1103},{"g":10,"x":279,"y":1131}],
"e1s":[{"x":272,"y":1122,"x2":297,"y2":1153},{"x":272,"y":1122,"x2":333,"y2":1133},{"x":272,"y":1122,"x2":350,"y2":1113},{"x":272,"y":1122,"x2":360,"y2":1097},{"x":272,"y":1122,"x2":369,"y2":1077},{"x":272,"y":1122,"x2":373,"y2":1057},{"x":272,"y":1122,"x2":363,"y2":1023},{"x":272,"y":1122,"x2":337,"y2":1000},{"x":272,"y":1122,"x2":307,"y2":988},{"x":272,"y":1122,"x2":277,"y2":985},{"x":272,"y":1122,"x2":250,"y2":990},{"x":272,"y":1122,"x2":227,"y2":997},{"x":272,"y":1122,"x2":203,"y2":1013},{"x":272,"y":1122,"x2":183,"y2":1033},{"x":272,"y":1122,"x2":172,"y2":1053},{"x":272,"y":1122,"x2":168,"y2":1078},{"x":272,"y":1122,"x2":168,"y2":1103},{"x":272,"y":1122,"x2":177,"y2":1130},{"x":272,"y":1122,"x2":193,"y2":1153},{"x":272,"y":1122,"x2":213,"y2":1180}],
"f2":[{"x":840,"y":1053},{"x":847,"y":1047},{"x":867,"y":1046},{"x":900,"y":1052},{"x":940,"y":1068},{"x":963,"y":1082},{"x":982,"y":1097},{"x":930,"y":1095},{"x":917,"y":1093},{"x":883,"y":1080},{"x":857,"y":1070},{"x":842,"y":1060}],
"f2r":[{"g":1,"x":845,"y":1053},{"g":1,"x":880,"y":1055},{"g":1,"x":925,"y":1073},{"g":1,"x":965,"y":1092},{"g":2,"x":850,"y":1058},{"g":2,"x":880,"y":1064},{"g":2,"x":915,"y":1080},{"g":2,"x":950,"y":1094},{"g":3,"x":852,"y":1064},{"g":3,"x":880,"y":1072},{"g":3,"x":915,"y":1088},{"g":3,"x":935,"y":1095}],
"f2s":[{"x":855,"y":1069,"x2":858,"y2":1046},{"x":870,"y":1075,"x2":875,"y2":1047},{"x":885,"y":1081,"x2":893,"y2":1050},{"x":900,"y":1087,"x2":910,"y2":1056},{"x":915,"y":1092,"x2":925,"y2":1062},{"x":930,"y":1095,"x2":942,"y2":1069},{"x":945,"y":1096,"x2":955,"y2":1077}],
"f1":[{"x":930,"y":1143},{"x":982,"y":1098},{"x":1000,"y":1120},{"x":1010,"y":1133},{"x":1018,"y":1147},{"x":1024,"y":1162},{"x":1028,"y":1177},{"x":1028,"y":1203},{"x":1023,"y":1220},{"x":1017,"y":1237},{"x":1004,"y":1249},{"x":990,"y":1260},{"x":975,"y":1269},{"x":960,"y":1278},{"x":945,"y":1281},{"x":930,"y":1283},{"x":903,"y":1283},{"x":877,"y":1275},{"x":865,"y":1266},{"x":853,"y":1257},{"x":846,"y":1242},{"x":840,"y":1227},{"x":842,"y":1203},{"x":853,"y":1183},{"x":877,"y":1160},{"x":903,"y":1143},{"x":927,"y":1137}],
"f1r":[{"g":1,"x":973,"y":1107},{"g":1,"x":1003,"y":1147},{"g":1,"x":1011,"y":1193},{"g":1,"x":980,"y":1240},{"g":1,"x":931,"y":1259},{"g":1,"x":887,"y":1252},{"g":1,"x":857,"y":1213},{"g":1,"x":867,"y":1177},{"g":1,"x":908,"y":1144},{"g":2,"x":965,"y":1115},{"g":2,"x":988,"y":1147},{"g":2,"x":995,"y":1183},{"g":2,"x":970,"y":1220},{"g":2,"x":931,"y":1235},{"g":2,"x":897,"y":1230},{"g":2,"x":873,"y":1199},{"g":2,"x":881,"y":1170},{"g":2,"x":913,"y":1144},{"g":3,"x":958,"y":1122},{"g":3,"x":976,"y":1147},{"g":3,"x":981,"y":1175},{"g":3,"x":962,"y":1204},{"g":3,"x":931,"y":1215},{"g":3,"x":905,"y":1211},{"g":3,"x":886,"y":1187},{"g":3,"x":893,"y":1165},{"g":3,"x":918,"y":1145},{"g":4,"x":951,"y":1129},{"g":4,"x":964,"y":1147},{"g":4,"x":967,"y":1167},{"g":4,"x":954,"y":1188},{"g":4,"x":932,"y":1196},{"g":4,"x":913,"y":1193},{"g":4,"x":900,"y":1176},{"g":4,"x":904,"y":1160},{"g":4,"x":922,"y":1146},{"g":5,"x":944,"y":1136},{"g":5,"x":952,"y":1147},{"g":5,"x":954,"y":1159},{"g":5,"x":946,"y":1172},{"g":5,"x":932,"y":1177},{"g":5,"x":921,"y":1175},{"g":5,"x":913,"y":1165},{"g":5,"x":915,"y":1155},{"g":5,"x":926,"y":1146},
{"g":6,"x":978,"y":1102},{"g":6,"x":1010,"y":1147},{"g":6,"x":1019,"y":1198},{"g":6,"x":985,"y":1250},{"g":6,"x":930,"y":1271},{"g":6,"x":882,"y":1263},{"g":6,"x":848,"y":1220},{"g":6,"x":860,"y":1180},{"g":6,"x":906,"y":1143},{"g":7,"x":969,"y":1111},{"g":7,"x":995,"y":1147},{"g":7,"x":1002,"y":1188},{"g":7,"x":975,"y":1229},{"g":7,"x":931,"y":1246},{"g":7,"x":892,"y":1240},{"g":7,"x":865,"y":1205},{"g":7,"x":875,"y":1173},{"g":7,"x":911,"y":1144},{"g":8,"x":961,"y":1119},{"g":8,"x":981,"y":1147},{"g":8,"x":987,"y":1179},{"g":8,"x":965,"y":1211},{"g":8,"x":931,"y":1225},{"g":8,"x":901,"y":1220},{"g":8,"x":880,"y":1193},{"g":8,"x":887,"y":1168},{"g":8,"x":916,"y":1145},{"g":9,"x":954,"y":1126},{"g":9,"x":970,"y":1147},{"g":9,"x":974,"y":1171},{"g":9,"x":958,"y":1196},{"g":9,"x":932,"y":1205},{"g":9,"x":909,"y":1202},{"g":9,"x":893,"y":1181},{"g":9,"x":899,"y":1162},{"g":9,"x":920,"y":1145},{"g":10,"x":947,"y":1133},{"g":10,"x":958,"y":1147},{"g":10,"x":961,"y":1163},{"g":10,"x":950,"y":1180},{"g":10,"x":932,"y":1186},{"g":10,"x":917,"y":1184},{"g":10,"x":906,"y":1170},{"g":10,"x":910,"y":1157},{"g":10,"x":924,"y":1146}],
"f1s":[{"x":933,"y":1147,"x2":982,"y2":1098},{"x":933,"y":1147,"x2":1000,"y2":1120},{"x":933,"y":1147,"x2":1010,"y2":1133},{"x":933,"y":1147,"x2":1018,"y2":1147},{"x":933,"y":1147,"x2":1024,"y2":1162},{"x":933,"y":1147,"x2":1028,"y2":1177},{"x":933,"y":1147,"x2":1028,"y2":1203},{"x":933,"y":1147,"x2":1017,"y2":1237},{"x":933,"y":1147,"x2":990,"y2":1260},{"x":933,"y":1147,"x2":960,"y2":1278},{"x":933,"y":1147,"x2":930,"y2":1283},{"x":933,"y":1147,"x2":903,"y2":1283},{"x":933,"y":1147,"x2":877,"y2":1275},{"x":933,"y":1147,"x2":853,"y2":1257},{"x":933,"y":1147,"x2":840,"y2":1227},{"x":933,"y":1147,"x2":842,"y2":1203},{"x":933,"y":1147,"x2":853,"y2":1183},{"x":933,"y":1147,"x2":877,"y2":1160}],
"f3":[{"x":913,"y":1093},{"x":940,"y":1093},{"x":983,"y":1098},{"x":1028,"y":1096},{"x":983,"y":1107},{"x":957,"y":1120},{"x":940,"y":1137},{"x":930,"y":1120},{"x":920,"y":1107}],
"dk":[{"g":"a1","x":217,"y":182},{"g":"a1","x":250,"y":160},{"g":"a1","x":290,"y":137},{"g":"a1","x":325,"y":122},{"g":"a1","x":358,"y":109},{"g":"a1","x":352,"y":122},{"g":"a1","x":330,"y":130},{"g":"a1","x":300,"y":145},{"g":"a1","x":275,"y":165},{"g":"a1","x":245,"y":178},
{"g":"a2","x":272,"y":165},{"g":"a2","x":283,"y":170},{"g":"a2","x":272,"y":195},{"g":"a2","x":266,"y":218},{"g":"a2","x":268,"y":240},{"g":"a2","x":276,"y":262},{"g":"a2","x":280,"y":270},{"g":"a2","x":262,"y":268},{"g":"a2","x":258,"y":240},{"g":"a2","x":256,"y":215},{"g":"a2","x":262,"y":190},
{"g":"a3","x":164,"y":287},{"g":"a3","x":180,"y":279},{"g":"a3","x":195,"y":271},{"g":"a3","x":197,"y":277},{"g":"a3","x":178,"y":286},{"g":"a3","x":167,"y":290},
{"g":"a4","x":280,"y":212},{"g":"a4","x":300,"y":202},{"g":"a4","x":318,"y":196},{"g":"a4","x":316,"y":201},{"g":"a4","x":300,"y":209},{"g":"a4","x":283,"y":215},
{"g":"b1","x":905,"y":158},{"g":"b1","x":912,"y":150},{"g":"b1","x":920,"y":165},{"g":"b1","x":926,"y":195},{"g":"b1","x":917,"y":205},{"g":"b1","x":908,"y":185},
{"g":"b2","x":915,"y":212},{"g":"b2","x":925,"y":215},{"g":"b2","x":936,"y":235},{"g":"b2","x":934,"y":245},{"g":"b2","x":922,"y":245},{"g":"b2","x":916,"y":230},
{"g":"b3","x":917,"y":198},{"g":"b3","x":925,"y":200},{"g":"b3","x":880,"y":228},{"g":"b3","x":862,"y":241},{"g":"b3","x":860,"y":238},{"g":"b3","x":885,"y":218},
{"g":"b4","x":825,"y":306},{"g":"b4","x":838,"y":295},{"g":"b4","x":862,"y":273},{"g":"b4","x":866,"y":278},{"g":"b4","x":850,"y":295},{"g":"b4","x":832,"y":308},
{"g":"c1","x":230,"y":620},{"g":"c1","x":245,"y":632},{"g":"c1","x":262,"y":655},{"g":"c1","x":262,"y":680},{"g":"c1","x":245,"y":690},{"g":"c1","x":238,"y":672},{"g":"c1","x":240,"y":650},{"g":"c1","x":228,"y":632},
{"g":"d1","x":923,"y":660},{"g":"d1","x":937,"y":650},{"g":"d1","x":938,"y":665},{"g":"d1","x":925,"y":672},{"g":"d2","x":917,"y":683},{"g":"d2","x":933,"y":683},{"g":"d2","x":934,"y":700},{"g":"d2","x":920,"y":698},{"g":"d3","x":925,"y":670},{"g":"d3","x":992,"y":669},{"g":"d3","x":992,"y":672},{"g":"d3","x":925,"y":673},
{"g":"e1","x":167,"y":1180},{"g":"e1","x":180,"y":1175},{"g":"e1","x":213,"y":1173},{"g":"e1","x":267,"y":1150},{"g":"e1","x":272,"y":1137},{"g":"e1","x":272,"y":1163},{"g":"e1","x":213,"y":1182},{"g":"e1","x":180,"y":1185},
{"g":"e2","x":283,"y":1165},{"g":"e2","x":330,"y":1190},{"g":"e2","x":372,"y":1220},{"g":"e2","x":330,"y":1194},{"g":"e2","x":295,"y":1177},
{"g":"e3","x":266,"y":1114},{"g":"e3","x":278,"y":1114},{"g":"e3","x":278,"y":1130},{"g":"e3","x":266,"y":1130},
{"g":"f1","x":928,"y":1120},{"g":"f1","x":938,"y":1120},{"g":"f1","x":940,"y":1143},{"g":"f1","x":934,"y":1165},{"g":"f1","x":929,"y":1157},
{"g":"f2","x":860,"y":1069},{"g":"f2","x":885,"y":1079},{"g":"f2","x":915,"y":1092},{"g":"f2","x":932,"y":1118},{"g":"f2","x":926,"y":1120},{"g":"f2","x":910,"y":1097},{"g":"f2","x":880,"y":1083},
{"g":"f3","x":985,"y":1098},{"g":"f3","x":1028,"y":1096},{"g":"f3","x":985,"y":1103}],
"tr":[{"t":"3.05","x":111,"y":105},{"t":"3","x":111,"y":172},{"t":"2.95","x":111,"y":240},{"t":"-0.65","x":774,"y":68},{"t":"-0.7","x":774,"y":138},{"t":"-0.75","x":774,"y":207},{"t":"-0.8","x":774,"y":277},{"t":"3","x":111,"y":547},{"t":"2.99","x":111,"y":599},{"t":"2.98","x":111,"y":650},{"t":"2.97","x":111,"y":700},{"t":"2.96","x":111,"y":752},{"t":"-0.71","x":773,"y":535},{"t":"-0.72","x":773,"y":584},{"t":"-0.73","x":773,"y":633},{"t":"-0.74","x":773,"y":683},{"t":"-0.75","x":773,"y":733},{"t":"3","x":111,"y":1048},{"t":"2.99","x":111,"y":1140},{"t":"2.98","x":111,"y":1231},{"t":"-0.61","x":787,"y":1057},{"t":"-0.615","x":787,"y":1103},{"t":"-0.62","x":787,"y":1148},{"t":"-0.625","x":787,"y":1193}],
"tc":[{"t":"0.02","x":84,"y":334},{"t":"0","x":162,"y":377},{"t":"-0.02","x":198,"y":419},{"t":"-0.02","x":290,"y":423},{"t":"0","x":343,"y":389},{"t":"0.02","x":438,"y":356},{"t":"0.02","x":746,"y":334},{"t":"0","x":822,"y":377},{"t":"-0.02","x":855,"y":419},{"t":"-0.02","x":946,"y":423},{"t":"0","x":997,"y":389},{"t":"0.02","x":1089,"y":356},{"t":"-0.05","x":79,"y":798},{"t":"0","x":161,"y":821},{"t":"0.05","x":199,"y":844},{"t":"-0.05","x":289,"y":848},{"t":"0","x":343,"y":830},{"t":"0.05","x":438,"y":812},{"t":"-0.05","x":741,"y":798},{"t":"0","x":821,"y":821},{"t":"0.05","x":856,"y":844},{"t":"-0.05","x":947,"y":848},{"t":"0","x":998,"y":830},{"t":"0.05","x":1090,"y":812},{"t":"2.9815","x":120,"y":1287},{"t":"2.982","x":208,"y":1319},{"t":"-0.735","x":430,"y":1273},{"t":"-0.7355","x":374,"y":1314},{"t":"2.9815","x":792,"y":1287},{"t":"2.982","x":874,"y":1319},{"t":"-0.735","x":1085,"y":1273},{"t":"-0.7355","x":1034,"y":1314}],
"tl":[{"t":"3.6","x":529,"y":56},{"t":"3.5","x":529,"y":105},{"t":"3.4","x":529,"y":154},{"t":"3.3","x":529,"y":203},{"t":"3.2","x":529,"y":252},{"t":"3.1","x":529,"y":301},{"t":"3","x":529,"y":351},{"t":"3.6","x":1180,"y":55},{"t":"3.5","x":1180,"y":104},{"t":"3.4","x":1180,"y":153},{"t":"3.3","x":1180,"y":202},{"t":"3.2","x":1180,"y":251},{"t":"3.1","x":1180,"y":300},{"t":"3","x":1180,"y":350},{"t":"3.16","x":527,"y":563},{"t":"3.14","x":527,"y":663},{"t":"3.12","x":527,"y":763},{"t":"3.16","x":1176,"y":563},{"t":"3.14","x":1176,"y":663},{"t":"3.12","x":1176,"y":763}],
"pl":[{"t":"(a)","x":27,"y":27},{"t":"(b)","x":677,"y":27},{"t":"(c)","x":27,"y":493},{"t":"(d)","x":677,"y":493},{"t":"(e)","x":27,"y":979},{"t":"(f)","x":673,"y":979}],
"it":[{"t":"d/R","x":84,"y":443},{"t":"n","x":396,"y":448},{"t":"d/R","x":742,"y":443},{"t":"n","x":1052,"y":448}],
"vm":[{"t":"Re(ω","x":40,"y":252},{"t":")","x":40,"y":157},{"t":"Im(ω","x":690,"y":253},{"t":")","x":690,"y":157},{"t":"Re(ω","x":38,"y":711},{"t":")","x":38,"y":615},{"t":"Im(ω","x":690,"y":711},{"t":")","x":690,"y":615},{"t":"Re(ω","x":38,"y":1213},{"t":")","x":38,"y":1108},{"t":"Im(ω","x":690,"y":1213},{"t":")","x":690,"y":1108}],
"vs":[{"t":"±","x":46,"y":171},{"t":"±","x":696,"y":171},{"t":"±","x":44,"y":630},{"t":"±","x":696,"y":630},{"t":"1,2","x":44,"y":1135},{"t":"1,2","x":696,"y":1135}],
"vf":[{"t":"R","x":27,"y":137},{"t":"c","x":50,"y":137},{"t":"R","x":678,"y":137},{"t":"c","x":702,"y":137},{"t":"R","x":25,"y":595},{"t":"c","x":50,"y":595},{"t":"R","x":678,"y":595},{"t":"c","x":702,"y":595},{"t":"R","x":25,"y":1087},{"t":"c","x":49,"y":1087},{"t":"R","x":679,"y":1087},{"t":"c","x":703,"y":1087}],
"hm":[{"t":"Re(δω","x":118,"y":892},{"t":")","x":219,"y":892},{"t":"Im(δω","x":250,"y":926},{"t":")","x":350,"y":926},{"t":"Re(δω","x":777,"y":892},{"t":")","x":876,"y":892},{"t":"Im(δω","x":905,"y":926},{"t":")","x":1005,"y":926},{"t":"Re(ω","x":137,"y":1372},{"t":")","x":238,"y":1372},{"t":"Im(ω","x":282,"y":1407},{"t":")","x":383,"y":1407},{"t":"Re(ω","x":807,"y":1372},{"t":")","x":908,"y":1372},{"t":"Im(ω","x":939,"y":1407},{"t":")","x":1041,"y":1407}],
"hs":[{"t":"0","x":205,"y":898},{"t":"0","x":338,"y":932},{"t":"0","x":864,"y":898},{"t":"0","x":993,"y":932},{"t":"EP","x":208,"y":1378},{"t":"EP","x":353,"y":1413},{"t":"EP","x":877,"y":1378},{"t":"EP","x":1010,"y":1413}],
"hf":[{"t":"R","x":242,"y":878},{"t":"c","x":241,"y":902},{"t":"R","x":376,"y":913},{"t":"c","x":376,"y":937},{"t":"R","x":909,"y":878},{"t":"c","x":908,"y":902},{"t":"R","x":1039,"y":913},{"t":"c","x":1039,"y":937},{"t":"R","x":265,"y":1360},{"t":"c","x":265,"y":1383},{"t":"R","x":410,"y":1395},{"t":"c","x":410,"y":1418},{"t":"R","x":934,"y":1360},{"t":"c","x":934,"y":1383},{"t":"R","x":1068,"y":1395},{"t":"c","x":1068,"y":1418}],
"rep":[{"t":"REP","x":220,"y":663},{"t":"REP","x":960,"y":685},{"t":"REP","x":272,"y":1071},{"t":"REP","x":898,"y":1128}],
"repr":[{"t":"REP","x":221,"y":234},{"t":"REP","x":957,"y":213}],
"mk":[{"x":261,"y":218},{"x":260,"y":654},{"x":920,"y":673},{"x":933,"y":1143}],
"redl":[{"g":1,"x":915,"y":213},{"g":1,"x":920,"y":217},{"g":1,"x":926,"y":216},{"g":1,"x":932,"y":212},{"g":2,"x":270,"y":1090},{"g":2,"x":270,"y":1116}],
"arrow":[{"x":270,"y":1117}]
},
"layer":[
{"data":{"name":"grid"},"mark":{"type":"rule","stroke":"#dedede","strokeWidth":1},"encoding":{"x2":{"field":"x2"},"y2":{"field":"y2"}}},
{"data":{"name":"box"},"mark":{"type":"rule","stroke":"#454545","strokeWidth":1.1},"encoding":{"x2":{"field":"x2"},"y2":{"field":"y2"}}},
{"data":{"name":"cb1"},"mark":{"type":"rect","stroke":"#444","strokeWidth":1,"fill":{"gradient":"linear","x1":0,"y1":1,"x2":0,"y2":0,"stops":[{"offset":0,"color":"#63c6da"},{"offset":0.12,"color":"#3fc6f2"},{"offset":0.26,"color":"#44aae6"},{"offset":0.5,"color":"#5b7fc2"},{"offset":0.75,"color":"#7f5caf"},{"offset":1,"color":"#b24a9f"}]}},"encoding":{"x2":{"field":"x2"},"y2":{"field":"y2"}}},
{"data":{"name":"cb2"},"mark":{"type":"rect","stroke":"#444","strokeWidth":1,"fill":{"gradient":"linear","x1":0,"y1":1,"x2":0,"y2":0,"stops":[{"offset":0,"color":"#63c6da"},{"offset":0.12,"color":"#3fc6f2"},{"offset":0.26,"color":"#44aae6"},{"offset":0.5,"color":"#5b7fc2"},{"offset":0.75,"color":"#7f5caf"},{"offset":1,"color":"#b24a9f"}]}},"encoding":{"x2":{"field":"x2"},"y2":{"field":"y2"}}},
{"data":{"name":"cb3"},"mark":{"type":"rect","stroke":"#444","strokeWidth":1,"fill":{"gradient":"linear","x1":0,"y1":1,"x2":0,"y2":0,"stops":[{"offset":0,"color":"#63c6da"},{"offset":0.12,"color":"#3fc6f2"},{"offset":0.26,"color":"#44aae6"},{"offset":0.5,"color":"#5b7fc2"},{"offset":0.75,"color":"#7f5caf"},{"offset":1,"color":"#b24a9f"}]}},"encoding":{"x2":{"field":"x2"},"y2":{"field":"y2"}}},
{"data":{"name":"cb4"},"mark":{"type":"rect","stroke":"#444","strokeWidth":1,"fill":{"gradient":"linear","x1":0,"y1":1,"x2":0,"y2":0,"stops":[{"offset":0,"color":"#63c6da"},{"offset":0.12,"color":"#3fc6f2"},{"offset":0.26,"color":"#44aae6"},{"offset":0.5,"color":"#5b7fc2"},{"offset":0.75,"color":"#7f5caf"},{"offset":1,"color":"#b24a9f"}]}},"encoding":{"x2":{"field":"x2"},"y2":{"field":"y2"}}},

{"data":{"name":"a1"},"mark":{"type":"line","style":"edge","fill":{"gradient":"linear","x1":0,"y1":0,"x2":0,"y2":1,"stops":[{"offset":0,"color":"#6670b4"},{"offset":0.6,"color":"#5a80b8"},{"offset":1,"color":"#2f8ba8"}]}},"encoding":{"order":{"value":null}}},
{"data":{"name":"a1r"},"mark":{"type":"line","style":"ring"},"encoding":{"detail":{"field":"g"},"order":{"value":null}}},
{"data":{"name":"a1r"},"mark":{"type":"line","style":"rh"},"encoding":{"detail":{"field":"g"},"order":{"value":null}}},
{"data":{"name":"a1s"},"mark":{"type":"rule","style":"spoke"},"encoding":{"x2":{"field":"x2"},"y2":{"field":"y2"}}},
{"data":{"name":"a1s"},"mark":{"type":"rule","style":"sh"},"encoding":{"x2":{"field":"x2"},"y2":{"field":"y2"}}},
{"data":{"name":"a2"},"mark":{"type":"line","style":"edge","fill":{"gradient":"linear","x1":0,"y1":0,"x2":0,"y2":1,"stops":[{"offset":0,"color":"#1f4b60"},{"offset":0.3,"color":"#3f90c0"},{"offset":0.55,"color":"#4a9ed8"},{"offset":0.8,"color":"#3ebce6"},{"offset":1,"color":"#55c6dc"}]}},"encoding":{"order":{"value":null}}},
{"data":{"name":"a2r"},"mark":{"type":"line","style":"ring"},"encoding":{"detail":{"field":"g"},"order":{"value":null}}},
{"data":{"name":"a2r"},"mark":{"type":"line","style":"rh"},"encoding":{"detail":{"field":"g"},"order":{"value":null}}},
{"data":{"name":"a2s"},"mark":{"type":"rule","style":"spoke"},"encoding":{"x2":{"field":"x2"},"y2":{"field":"y2"}}},
{"data":{"name":"a2s"},"mark":{"type":"rule","style":"sh"},"encoding":{"x2":{"field":"x2"},"y2":{"field":"y2"}}},

{"data":{"name":"b1"},"mark":{"type":"line","style":"edge","fill":{"gradient":"linear","x1":0,"y1":0,"x2":0.2,"y2":1,"stops":[{"offset":0,"color":"#ad4ba0"},{"offset":0.3,"color":"#7a5cb0"},{"offset":0.55,"color":"#5580c4"},{"offset":0.8,"color":"#42a6dc"},{"offset":1,"color":"#3a8fb0"}]}},"encoding":{"order":{"value":null}}},
{"data":{"name":"b1r"},"mark":{"type":"line","style":"ring"},"encoding":{"detail":{"field":"g"},"order":{"value":null}}},
{"data":{"name":"b1r"},"mark":{"type":"line","style":"rh"},"encoding":{"detail":{"field":"g"},"order":{"value":null}}},
{"data":{"name":"b1s"},"mark":{"type":"rule","style":"spoke"},"encoding":{"x2":{"field":"x2"},"y2":{"field":"y2"}}},
{"data":{"name":"b1s"},"mark":{"type":"rule","style":"sh"},"encoding":{"x2":{"field":"x2"},"y2":{"field":"y2"}}},
{"data":{"name":"b3"},"mark":{"type":"line","style":"edge","fill":{"gradient":"linear","x1":0,"y1":0,"x2":0,"y2":1,"stops":[{"offset":0,"color":"#3cb5ea"},{"offset":0.6,"color":"#3fc2ee"},{"offset":1,"color":"#5ac8dc"}]}},"encoding":{"order":{"value":null}}},
{"data":{"name":"b3r"},"mark":{"type":"line","style":"ring"},"encoding":{"detail":{"field":"g"},"order":{"value":null}}},
{"data":{"name":"b3r"},"mark":{"type":"line","style":"rh"},"encoding":{"detail":{"field":"g"},"order":{"value":null}}},
{"data":{"name":"b3s"},"mark":{"type":"rule","style":"spoke"},"encoding":{"x2":{"field":"x2"},"y2":{"field":"y2"}}},
{"data":{"name":"b3s"},"mark":{"type":"rule","style":"sh"},"encoding":{"x2":{"field":"x2"},"y2":{"field":"y2"}}},
{"data":{"name":"b2"},"mark":{"type":"line","style":"edge","fill":{"gradient":"linear","x1":0,"y1":0,"x2":1,"y2":0,"stops":[{"offset":0,"color":"#14202a"},{"offset":0.5,"color":"#1c3440"},{"offset":0.8,"color":"#2f7c98"},{"offset":1,"color":"#4ab0cf"}]}},"encoding":{"order":{"value":null}}},
{"data":{"name":"b2s"},"mark":{"type":"rule","style":"spoke"},"encoding":{"x2":{"field":"x2"},"y2":{"field":"y2"}}},

{"data":{"name":"c2"},"mark":{"type":"line","style":"edge","fill":{"gradient":"linear","x1":0,"y1":0,"x2":1,"y2":0.4,"stops":[{"offset":0,"color":"#1e2c38"},{"offset":0.6,"color":"#3a2f52"},{"offset":0.85,"color":"#7a4690"},{"offset":1,"color":"#33233f"}]}},"encoding":{"order":{"value":null}}},
{"data":{"name":"c1"},"mark":{"type":"line","style":"edge","fill":{"gradient":"linear","x1":0,"y1":0,"x2":1,"y2":0,"stops":[{"offset":0,"color":"#3fc2ee"},{"offset":0.35,"color":"#4fa0de"},{"offset":0.65,"color":"#6a72bd"},{"offset":1,"color":"#9055a8"}]}},"encoding":{"order":{"value":null}}},
{"data":{"name":"c1r"},"mark":{"type":"line","style":"ring"},"encoding":{"detail":{"field":"g"},"order":{"value":null}}},
{"data":{"name":"c1r"},"mark":{"type":"line","style":"rh2"},"encoding":{"detail":{"field":"g"},"order":{"value":null}}},
{"data":{"name":"c1s"},"mark":{"type":"rule","style":"spoke"},"encoding":{"x2":{"field":"x2"},"y2":{"field":"y2"}}},
{"data":{"name":"c3"},"mark":{"type":"line","style":"edge","fill":{"gradient":"linear","x1":0,"y1":0,"x2":1,"y2":0,"stops":[{"offset":0,"color":"#6b4d9c"},{"offset":0.45,"color":"#5a6cb8"},{"offset":0.8,"color":"#42b4e6"},{"offset":1,"color":"#5f90c8"}]}},"encoding":{"order":{"value":null}}},
{"data":{"name":"c3r"},"mark":{"type":"line","style":"ring"},"encoding":{"detail":{"field":"g"},"order":{"value":null}}},
{"data":{"name":"c3r"},"mark":{"type":"line","style":"rh2"},"encoding":{"detail":{"field":"g"},"order":{"value":null}}},
{"data":{"name":"c3s"},"mark":{"type":"rule","style":"spoke"},"encoding":{"x2":{"field":"x2"},"y2":{"field":"y2"}}},
{"data":{"name":"c4"},"mark":{"type":"line","style":"edge","fill":{"gradient":"linear","x1":0,"y1":0.3,"x2":1,"y2":0.7,"stops":[{"offset":0,"color":"#a24ea0"},{"offset":0.35,"color":"#6f5cb0"},{"offset":0.7,"color":"#5a78c0"},{"offset":1,"color":"#4a98d8"}]}},"encoding":{"order":{"value":null}}},
{"data":{"name":"c4r"},"mark":{"type":"line","style":"ring"},"encoding":{"detail":{"field":"g"},"order":{"value":null}}},
{"data":{"name":"c4r"},"mark":{"type":"line","style":"rh2"},"encoding":{"detail":{"field":"g"},"order":{"value":null}}},
{"data":{"name":"c4s"},"mark":{"type":"rule","style":"spoke"},"encoding":{"x2":{"field":"x2"},"y2":{"field":"y2"}}},

{"data":{"name":"d3"},"mark":{"type":"line","style":"edge","fill":"#5f4596"},"encoding":{"order":{"value":null}}},
{"data":{"name":"d3r"},"mark":{"type":"line","style":"ring"},"encoding":{"detail":{"field":"g"},"order":{"value":null}}},
{"data":{"name":"d1"},"mark":{"type":"line","style":"edge","fill":{"gradient":"linear","x1":0,"y1":0,"x2":1,"y2":0,"stops":[{"offset":0,"color":"#a64ca0"},{"offset":0.35,"color":"#7a5eb0"},{"offset":0.7,"color":"#5590d4"},{"offset":1,"color":"#45c0ea"}]}},"encoding":{"order":{"value":null}}},
{"data":{"name":"d1r"},"mark":{"type":"line","style":"ring"},"encoding":{"detail":{"field":"g"},"order":{"value":null}}},
{"data":{"name":"d1r"},"mark":{"type":"line","style":"rh2"},"encoding":{"detail":{"field":"g"},"order":{"value":null}}},
{"data":{"name":"d1s"},"mark":{"type":"rule","style":"spoke"},"encoding":{"x2":{"field":"x2"},"y2":{"field":"y2"}}},
{"data":{"name":"d4"},"mark":{"type":"line","style":"edge","fill":{"gradient":"linear","x1":0,"y1":0,"x2":1,"y2":0,"stops":[{"offset":0,"color":"#45a8e2"},{"offset":0.4,"color":"#5d84c4"},{"offset":0.75,"color":"#6f60b0"},{"offset":1,"color":"#8e52a8"}]}},"encoding":{"order":{"value":null}}},
{"data":{"name":"d4r"},"mark":{"type":"line","style":"ring"},"encoding":{"detail":{"field":"g"},"order":{"value":null}}},
{"data":{"name":"d4r"},"mark":{"type":"line","style":"rh2"},"encoding":{"detail":{"field":"g"},"order":{"value":null}}},
{"data":{"name":"d4s"},"mark":{"type":"rule","style":"spoke"},"encoding":{"x2":{"field":"x2"},"y2":{"field":"y2"}}},
{"data":{"name":"d2"},"mark":{"type":"line","style":"edge","fill":{"gradient":"linear","x1":0,"y1":0,"x2":1,"y2":0,"stops":[{"offset":0,"color":"#5a6cb8"},{"offset":0.3,"color":"#45b4e6"},{"offset":0.55,"color":"#5f80c4"},{"offset":0.8,"color":"#7a5cb0"},{"offset":1,"color":"#a84ca0"}]}},"encoding":{"order":{"value":null}}},
{"data":{"name":"d2r"},"mark":{"type":"line","style":"ring"},"encoding":{"detail":{"field":"g"},"order":{"value":null}}},
{"data":{"name":"d2r"},"mark":{"type":"line","style":"rh2"},"encoding":{"detail":{"field":"g"},"order":{"value":null}}},
{"data":{"name":"d2s"},"mark":{"type":"rule","style":"spoke"},"encoding":{"x2":{"field":"x2"},"y2":{"field":"y2"}}},

{"data":{"name":"e3"},"mark":{"type":"line","style":"edge","fill":{"gradient":"linear","x1":0,"y1":0,"x2":1,"y2":0,"stops":[{"offset":0,"color":"#e6d41c"},{"offset":0.5,"color":"#f6bd36"},{"offset":0.85,"color":"#f2c530"},{"offset":1,"color":"#8fb83a"}]}},"encoding":{"order":{"value":null}}},
{"data":{"name":"e3r"},"mark":{"type":"line","style":"ring"},"encoding":{"detail":{"field":"g"},"order":{"value":null}}},
{"data":{"name":"e3s"},"mark":{"type":"rule","style":"spoke"},"encoding":{"x2":{"field":"x2"},"y2":{"field":"y2"}}},
{"data":{"name":"e1"},"mark":{"type":"line","style":"edge","fill":{"gradient":"linear","x1":0,"y1":0,"x2":1,"y2":0,"stops":[{"offset":0,"color":"#f6bd30"},{"offset":0.15,"color":"#e6b83a"},{"offset":0.3,"color":"#a5b83a"},{"offset":0.45,"color":"#3cb482"},{"offset":0.6,"color":"#1fb4b4"},{"offset":0.75,"color":"#2f96d8"},{"offset":0.9,"color":"#4468c0"},{"offset":1,"color":"#4a56b4"}]}},"encoding":{"order":{"value":null}}},
{"data":{"name":"e1y"},"mark":{"type":"line","style":"edge","strokeWidth":0,"fill":{"gradient":"linear","x1":0,"y1":0,"x2":1,"y2":0.3,"stops":[{"offset":0,"color":"#f4c81e"},{"offset":0.5,"color":"#e2d81a"},{"offset":1,"color":"#9cbc36"}]}},"encoding":{"order":{"value":null}}},
{"data":{"name":"e1d"},"mark":{"type":"line","style":"edge","strokeWidth":0,"fill":{"gradient":"linear","x1":0,"y1":0,"x2":0,"y2":1,"stops":[{"offset":0,"color":"#3f4aa0"},{"offset":1,"color":"#2d2c66"}]}},"encoding":{"order":{"value":null}}},
{"data":{"name":"e1r"},"mark":{"type":"line","style":"ring"},"encoding":{"detail":{"field":"g"},"order":{"value":null}}},
{"data":{"name":"e1s"},"mark":{"type":"rule","style":"spoke"},"encoding":{"x2":{"field":"x2"},"y2":{"field":"y2"}}},

{"data":{"name":"f2"},"mark":{"type":"line","style":"edge","fill":{"gradient":"linear","x1":0,"y1":0,"x2":1,"y2":0,"stops":[{"offset":0,"color":"#f5c030"},{"offset":0.25,"color":"#9fb83c"},{"offset":0.5,"color":"#3f9a70"},{"offset":0.75,"color":"#20848c"},{"offset":1,"color":"#1fb0c8"}]}},"encoding":{"order":{"value":null}}},
{"data":{"name":"f2r"},"mark":{"type":"line","style":"ring"},"encoding":{"detail":{"field":"g"},"order":{"value":null}}},
{"data":{"name":"f2s"},"mark":{"type":"rule","style":"spoke"},"encoding":{"x2":{"field":"x2"},"y2":{"field":"y2"}}},
{"data":{"name":"f1"},"mark":{"type":"line","style":"edge","fill":{"gradient":"linear","x1":0,"y1":0,"x2":0,"y2":1,"stops":[{"offset":0,"color":"#20b4c8"},{"offset":0.3,"color":"#2f9cd8"},{"offset":0.55,"color":"#3c78c8"},{"offset":0.8,"color":"#4458b8"},{"offset":1,"color":"#483f98"}]}},"encoding":{"order":{"value":null}}},
{"data":{"name":"f1r"},"mark":{"type":"line","style":"ring"},"encoding":{"detail":{"field":"g"},"order":{"value":null}}},
{"data":{"name":"f1s"},"mark":{"type":"rule","style":"spoke"},"encoding":{"x2":{"field":"x2"},"y2":{"field":"y2"}}},
{"data":{"name":"f3"},"mark":{"type":"line","style":"edge","fill":{"gradient":"linear","x1":0,"y1":0,"x2":0,"y2":1,"stops":[{"offset":0,"color":"#1a1a1a"},{"offset":0.35,"color":"#6b7a28"},{"offset":0.7,"color":"#3a8070"},{"offset":1,"color":"#20302f"}]}},"encoding":{"order":{"value":null}}},

{"data":{"name":"dk"},"mark":{"type":"line","interpolate":"linear-closed","fill":"#17181f","stroke":"#17181f","strokeWidth":1,"opacity":0.92},"encoding":{"detail":{"field":"g"},"order":{"value":null}}},

{"data":{"name":"tr"},"mark":{"type":"text","align":"right","baseline":"middle","fontSize":29.5,"color":"#4d4d4d"},"encoding":{"text":{"field":"t"}}},
{"data":{"name":"tc"},"mark":{"type":"text","align":"center","baseline":"middle","fontSize":29.5,"color":"#4d4d4d"},"encoding":{"text":{"field":"t"}}},
{"data":{"name":"tl"},"mark":{"type":"text","align":"left","baseline":"middle","fontSize":26,"color":"#4d4d4d"},"encoding":{"text":{"field":"t"}}},
{"data":{"name":"pl"},"mark":{"type":"text","align":"center","baseline":"middle","fontSize":30,"color":"#262626"},"encoding":{"text":{"field":"t"}}},
{"data":{"name":"it"},"mark":{"type":"text","align":"center","baseline":"alphabetic","fontSize":32,"fontStyle":"italic","color":"#4d4d4d"},"encoding":{"text":{"field":"t"}}},
{"data":{"name":"vm"},"mark":{"type":"text","align":"left","baseline":"alphabetic","angle":270,"fontSize":36,"color":"#4d4d4d"},"encoding":{"text":{"field":"t"}}},
{"data":{"name":"vs"},"mark":{"type":"text","align":"left","baseline":"alphabetic","angle":270,"fontSize":22,"color":"#4d4d4d"},"encoding":{"text":{"field":"t"}}},
{"data":{"name":"vf"},"mark":{"type":"text","align":"center","baseline":"alphabetic","angle":270,"fontSize":24,"fontStyle":"italic","color":"#4d4d4d"},"encoding":{"text":{"field":"t"}}},
{"data":{"name":"hm"},"mark":{"type":"text","align":"left","baseline":"alphabetic","fontSize":34,"color":"#4d4d4d"},"encoding":{"text":{"field":"t"}}},
{"data":{"name":"hs"},"mark":{"type":"text","align":"left","baseline":"alphabetic","fontSize":22,"color":"#4d4d4d"},"encoding":{"text":{"field":"t"}}},
{"data":{"name":"hf"},"mark":{"type":"text","align":"center","baseline":"alphabetic","fontSize":24,"fontStyle":"italic","color":"#4d4d4d"},"encoding":{"text":{"field":"t"}}},

{"data":{"name":"redl"},"mark":{"type":"line","stroke":"#e8202e","strokeWidth":2.2},"encoding":{"detail":{"field":"g"},"order":{"value":null}}},
{"data":{"name":"arrow"},"mark":{"type":"point","shape":"triangle-down","filled":true,"fill":"#e8202e","size":50,"opacity":1,"stroke":null}},
{"data":{"name":"mk"},"mark":{"type":"point","shape":"circle","filled":false,"stroke":"#e8202e","strokeWidth":2.6,"size":170,"opacity":1}},
{"data":{"name":"rep"},"mark":{"type":"text","align":"center","baseline":"middle","font":"Liberation Sans","fontWeight":"bold","fontSize":26,"color":"#ee1c2e"},"encoding":{"text":{"field":"t"}}},
{"data":{"name":"repr"},"mark":{"type":"text","align":"center","baseline":"middle","angle":340,"font":"Liberation Sans","fontWeight":"bold","fontSize":26,"color":"#ee1c2e"},"encoding":{"text":{"field":"t"}}}
]}
